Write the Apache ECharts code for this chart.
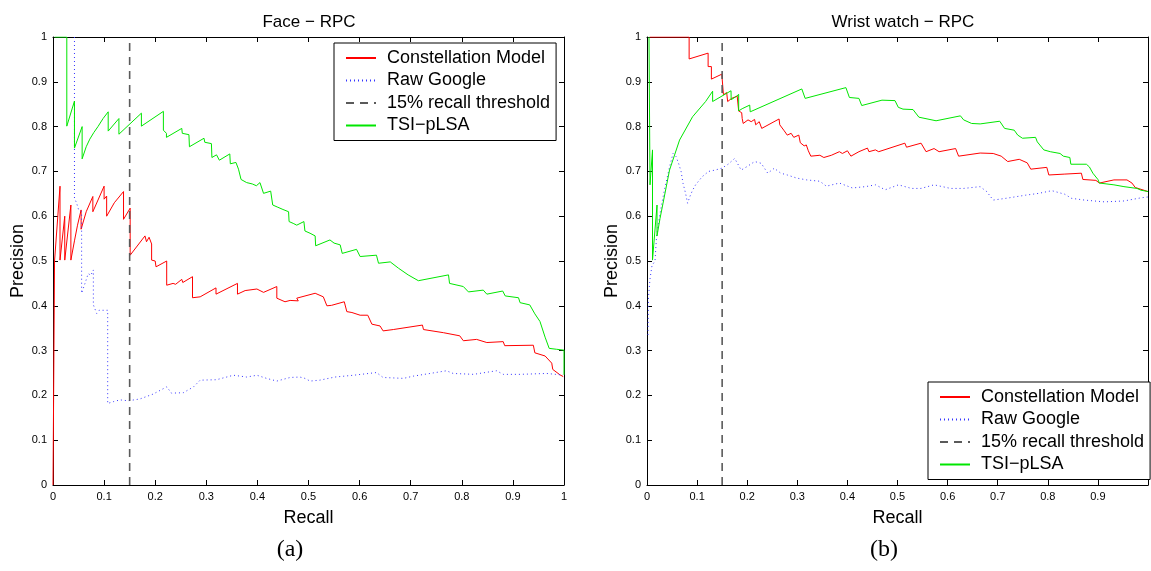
<!DOCTYPE html>
<html>
<head>
<meta charset="utf-8">
<script src="https://cdn.jsdelivr.net/npm/echarts@6/dist/echarts.min.js"></script>
<style>
  html, body { margin: 0; padding: 0; background: #fff; }
  #chart { width: 1151px; height: 571px; }
</style>
</head>
<body>
<div id="chart"></div>
<script>
// Recall-precision curves, [recall, precision] pairs.
const panelTitles = ['Face \u2212 RPC', 'Wrist watch \u2212 RPC'];
const panelCaptions = ['(a)', '(b)'];
const seriesNames = ['Constellation Model', 'Raw Google', '15% recall threshold', 'TSI\u2212pLSA'];
const tickValues = [0, 0.1, 0.2, 0.3, 0.4, 0.5, 0.6, 0.7, 0.8, 0.9, 1];
const recallThreshold = 0.15;

const faceConstellation = [
  [0,0],[0.003,0.5],[0.0137,0.667],[0.0137,0.502],[0.023,0.6],[0.023,0.502],[0.035,0.625],[0.035,0.502],
  [0.042,0.545],[0.048,0.58],[0.055,0.614],[0.055,0.571],[0.065,0.61],[0.078,0.644],[0.078,0.61],
  [0.1,0.667],[0.1,0.638],[0.105,0.645],[0.105,0.6],[0.12,0.63],[0.138,0.655],[0.138,0.593],
  [0.151,0.618],[0.151,0.513],[0.18,0.556],[0.183,0.543],[0.188,0.553],[0.193,0.538],[0.193,0.502],
  [0.2,0.5],[0.2016,0.487],[0.2225,0.5],[0.2225,0.446],[0.235,0.45],[0.24,0.448],[0.252,0.459],
  [0.254,0.452],[0.273,0.465],[0.273,0.418],[0.288,0.42],[0.319,0.44],[0.319,0.426],[0.361,0.45],
  [0.361,0.426],[0.376,0.434],[0.399,0.4375],[0.412,0.43],[0.438,0.443],[0.438,0.417],[0.454,0.409],
  [0.464,0.412],[0.48,0.411],[0.477,0.417],[0.513,0.428],[0.529,0.42],[0.536,0.4],[0.545,0.401],
  [0.57,0.409],[0.575,0.387],[0.585,0.385],[0.601,0.379],[0.616,0.379],[0.624,0.359],[0.64,0.355],
  [0.646,0.344],[0.666,0.347],[0.723,0.357],[0.725,0.347],[0.764,0.34],[0.796,0.333],[0.803,0.322],
  [0.829,0.325],[0.849,0.318],[0.881,0.32],[0.884,0.311],[0.94,0.312],[0.943,0.295],[0.963,0.288],
  [0.976,0.272],[0.978,0.258],[0.992,0.246],[0.9985,0.242]
];
const faceGoogle = [
  [0.042,1],[0.042,0.64],[0.046,0.63],[0.05,0.615],[0.056,0.61],[0.056,0.428],[0.0626,0.45],
  [0.069,0.472],[0.074,0.468],[0.079,0.48],[0.079,0.402],[0.0855,0.383],[0.09,0.39],[0.107,0.39],
  [0.107,0.182],[0.118,0.186],[0.131,0.19],[0.147,0.188],[0.17,0.192],[0.196,0.203],[0.2225,0.219],
  [0.232,0.205],[0.255,0.206],[0.275,0.219],[0.288,0.234],[0.32,0.235],[0.353,0.245],[0.379,0.241],
  [0.399,0.245],[0.418,0.238],[0.438,0.232],[0.464,0.24],[0.483,0.241],[0.493,0.238],[0.503,0.232],
  [0.522,0.234],[0.552,0.241],[0.588,0.245],[0.633,0.251],[0.646,0.24],[0.686,0.238],[0.705,0.243],
  [0.738,0.249],[0.77,0.255],[0.783,0.249],[0.823,0.247],[0.868,0.255],[0.881,0.247],[0.914,0.247],
  [0.966,0.249],[0.992,0.246],[0.998,0.246]
];
const faceTsi = [
  [0.003,1],[0.027,1],[0.027,0.801],[0.042,0.857],[0.042,0.752],[0.057,0.8],[0.057,0.728],
  [0.065,0.755],[0.072,0.772],[0.08,0.787],[0.088,0.8],[0.098,0.818],[0.108,0.833],[0.108,0.79],
  [0.129,0.818],[0.129,0.783],[0.173,0.83],[0.173,0.801],[0.216,0.834],[0.216,0.792],[0.222,0.785],
  [0.222,0.776],[0.252,0.796],[0.253,0.785],[0.266,0.782],[0.267,0.755],[0.2955,0.774],[0.297,0.765],
  [0.31,0.762],[0.311,0.731],[0.32,0.737],[0.3255,0.725],[0.346,0.739],[0.347,0.717],[0.358,0.72],
  [0.363,0.705],[0.368,0.682],[0.379,0.675],[0.39,0.672],[0.398,0.668],[0.405,0.675],[0.412,0.651],
  [0.426,0.656],[0.43,0.625],[0.44,0.62],[0.45,0.615],[0.461,0.61],[0.462,0.588],[0.47,0.584],
  [0.477,0.58],[0.491,0.588],[0.493,0.567],[0.503,0.562],[0.513,0.556],[0.514,0.534],[0.542,0.547],
  [0.55,0.54],[0.562,0.536],[0.566,0.517],[0.594,0.526],[0.601,0.51],[0.633,0.513],[0.637,0.495],
  [0.66,0.498],[0.676,0.484],[0.695,0.469],[0.715,0.456],[0.774,0.469],[0.776,0.45],[0.803,0.443],
  [0.813,0.431],[0.842,0.435],[0.849,0.426],[0.88,0.433],[0.885,0.422],[0.911,0.418],[0.914,0.407],
  [0.933,0.402],[0.943,0.382],[0.953,0.365],[0.963,0.33],[0.971,0.305],[0.985,0.303],[1,0.301],[1,0.246]
];

const watchConstellation = [
  [0.005,1],[0.0841,1],[0.0841,0.951],[0.122,0.964],[0.122,0.934],[0.1285,0.934],[0.1285,0.906],
  [0.1493,0.917],[0.1526,0.871],[0.159,0.876],[0.161,0.856],[0.169,0.863],[0.18,0.868],[0.183,0.835],
  [0.189,0.831],[0.19,0.818],[0.192,0.807],[0.2016,0.815],[0.208,0.811],[0.2147,0.816],[0.217,0.804],
  [0.224,0.811],[0.229,0.796],[0.2636,0.817],[0.265,0.804],[0.273,0.792],[0.28,0.781],[0.2877,0.785],
  [0.293,0.776],[0.303,0.781],[0.306,0.764],[0.3137,0.757],[0.318,0.759],[0.322,0.746],[0.327,0.734],
  [0.345,0.736],[0.353,0.731],[0.368,0.736],[0.384,0.744],[0.39,0.74],[0.4,0.746],[0.407,0.734],
  [0.423,0.744],[0.44,0.752],[0.443,0.744],[0.456,0.748],[0.4625,0.744],[0.5147,0.763],[0.518,0.754],
  [0.547,0.763],[0.557,0.744],[0.573,0.751],[0.583,0.744],[0.616,0.751],[0.622,0.734],[0.665,0.741],
  [0.691,0.74],[0.707,0.734],[0.72,0.722],[0.743,0.727],[0.759,0.719],[0.766,0.705],[0.798,0.709],
  [0.802,0.692],[0.834,0.694],[0.867,0.696],[0.87,0.682],[0.896,0.68],[0.903,0.674],[0.932,0.681],
  [0.958,0.681],[0.968,0.674],[0.9746,0.664],[0.986,0.66],[1,0.655]
];
const watchGoogle = [
  [0.002,0.335],[0.003,0.42],[0.006,0.46],[0.01,0.49],[0.016,0.5],[0.019,0.554],[0.025,0.6],
  [0.035,0.66],[0.045,0.71],[0.052,0.74],[0.058,0.733],[0.063,0.718],[0.068,0.7],[0.072,0.673],
  [0.077,0.651],[0.081,0.629],[0.086,0.645],[0.091,0.658],[0.097,0.67],[0.11,0.688],[0.123,0.7],
  [0.136,0.703],[0.149,0.707],[0.162,0.716],[0.175,0.729],[0.188,0.703],[0.2,0.711],[0.215,0.722],
  [0.228,0.718],[0.241,0.696],[0.254,0.707],[0.267,0.696],[0.28,0.692],[0.299,0.685],[0.319,0.681],
  [0.345,0.678],[0.358,0.667],[0.384,0.674],[0.41,0.663],[0.436,0.666],[0.456,0.67],[0.4755,0.659],
  [0.502,0.67],[0.528,0.662],[0.547,0.662],[0.573,0.67],[0.606,0.662],[0.632,0.662],[0.665,0.666],
  [0.678,0.655],[0.691,0.636],[0.717,0.64],[0.756,0.647],[0.782,0.651],[0.808,0.657],[0.834,0.649],
  [0.847,0.64],[0.873,0.636],[0.913,0.632],[0.952,0.634],[0.986,0.641],[1,0.643]
];
const watchTsi = [
  [0.004,1],[0.006,1],[0.006,0.67],[0.011,0.748],[0.011,0.502],[0.02,0.625],[0.02,0.556],[0.026,0.595],
  [0.032,0.629],[0.045,0.703],[0.065,0.77],[0.091,0.822],[0.117,0.856],[0.131,0.879],[0.131,0.856],
  [0.1677,0.88],[0.168,0.86],[0.179,0.868],[0.183,0.872],[0.183,0.835],[0.19,0.84],[0.205,0.848],
  [0.206,0.833],[0.309,0.884],[0.3157,0.863],[0.397,0.887],[0.404,0.865],[0.423,0.863],[0.4286,0.847],
  [0.469,0.859],[0.495,0.858],[0.5016,0.843],[0.511,0.839],[0.531,0.838],[0.5427,0.821],[0.577,0.813],
  [0.6256,0.824],[0.632,0.815],[0.648,0.807],[0.665,0.806],[0.704,0.812],[0.7137,0.796],[0.733,0.792],
  [0.74,0.781],[0.7495,0.774],[0.7756,0.776],[0.779,0.766],[0.792,0.748],[0.805,0.744],[0.8245,0.74],
  [0.831,0.734],[0.844,0.731],[0.846,0.716],[0.877,0.716],[0.883,0.71],[0.89,0.696],[0.9,0.682],
  [0.903,0.674],[0.932,0.67],[0.952,0.666],[0.978,0.662],[0.986,0.658],[1,0.655]
];

const FONT = '"Liberation Sans", Arial, Helvetica, sans-serif';
const panels = [
  { left: 53, red: faceConstellation, blue: faceGoogle, green: faceTsi, legend: { left: 334, top: 43 }, hideOne: false },
  { left: 647, red: watchConstellation, blue: watchGoogle, green: watchTsi, legend: { left: 928, top: 382 }, hideOne: true }
];
const PW = 511, PH = 448, TOP = 37;

const grid = [], xAxis = [], yAxis = [], series = [], legend = [], graphic = [];

function valueAxis(extra) {
  return Object.assign({
    type: 'value', min: 0, max: 1, interval: 0.1,
    axisLine: { show: true, onZero: false, lineStyle: { color: '#000', width: 1 } },
    axisTick: { show: true, inside: true, length: 5, lineStyle: { color: '#000', width: 1 } },
    splitLine: { show: false }
  }, extra);
}

panels.forEach((p, i) => {
  grid.push({ left: p.left, top: TOP, width: PW, height: PH });
  const xi = xAxis.length, yi = yAxis.length;
  xAxis.push(valueAxis({
    gridIndex: i, position: 'bottom',
    name: 'Recall', nameLocation: 'middle', nameGap: 24,
    nameTextStyle: { fontFamily: FONT, fontSize: 18, color: '#000' },
    axisLabel: {
      fontFamily: FONT, fontSize: 11, color: '#000', margin: 6,
      formatter: v => (p.hideOne && v === 1) ? '' : String(v)
    }
  }));
  xAxis.push(valueAxis({ gridIndex: i, position: 'top', axisLabel: { show: false } }));
  yAxis.push(valueAxis({
    gridIndex: i, position: 'left',
    name: 'Precision', nameLocation: 'middle', nameGap: 26, nameRotate: 90,
    nameTextStyle: { fontFamily: FONT, fontSize: 18, color: '#000' },
    axisLabel: { fontFamily: FONT, fontSize: 11, color: '#000', margin: 6 }
  }));
  yAxis.push(valueAxis({ gridIndex: i, position: 'right', axisLabel: { show: false } }));

  const base = { type: 'line', xAxisIndex: xi, yAxisIndex: yi, symbol: 'none', showSymbol: false,
                 animation: false, clip: true, silent: true };
  series.push(Object.assign({}, base, { name: seriesNames[0], data: p.red,
    lineStyle: { color: '#ff0000', width: 1 }, itemStyle: { color: '#ff0000' } }));
  series.push(Object.assign({}, base, { name: seriesNames[1], data: p.blue,
    lineStyle: { color: '#3535ff', width: 1, type: [1, 3] }, itemStyle: { color: '#3535ff' } }));
  series.push(Object.assign({}, base, { name: seriesNames[2],
    data: [[recallThreshold, 0], [recallThreshold, 1]],
    lineStyle: { color: '#5a5a5a', width: 1.6, type: [8, 6] }, itemStyle: { color: '#5a5a5a' } }));
  series.push(Object.assign({}, base, { name: seriesNames[3], data: p.green,
    lineStyle: { color: '#00e600', width: 1 }, itemStyle: { color: '#00e600' } }));

  legend.push({
    data: seriesNames, orient: 'vertical', left: p.legend.left, top: p.legend.top,
    itemWidth: 30, itemHeight: 14, itemGap: 4.5,
    padding: [6, 6, 6, 11],
    backgroundColor: '#fff', borderColor: '#000', borderWidth: 1, borderRadius: 0,
    itemStyle: { opacity: 0 },
    textStyle: { fontFamily: FONT, fontSize: 18, color: '#000', padding: [0, 0, 0, 6] },
    selectedMode: false
  });

  graphic.push({ type: 'text', x: p.left + 256, y: 22, silent: true,
    style: { text: panelTitles[i], fontFamily: FONT, fontSize: 17, fill: '#000',
             textAlign: 'center', textVerticalAlign: 'middle' } });
  graphic.push({ type: 'text', x: p.left + 237, y: 550, silent: true,
    style: { text: panelCaptions[i], fontFamily: '"Liberation Serif", "DejaVu Serif", serif', fontSize: 24,
             fill: '#000', textAlign: 'center', textVerticalAlign: 'middle' } });
});

const chart = echarts.init(document.getElementById('chart'), null, { renderer: 'canvas' });
chart.setOption({
  animation: false,
  backgroundColor: '#fff',
  grid, xAxis, yAxis, series, legend, graphic
});
</script>
</body>
</html>
